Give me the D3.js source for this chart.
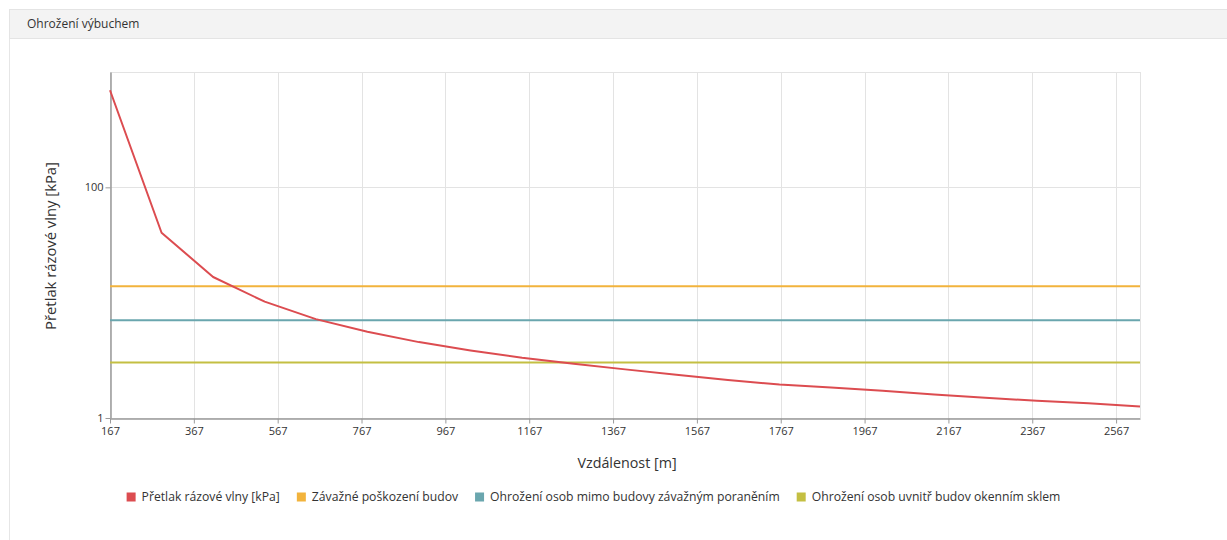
<!DOCTYPE html>
<html>
<head>
<meta charset="utf-8">
<script src="https://cdn.jsdelivr.net/npm/d3@7"></script>
<style>
  html, body { margin: 0; padding: 0; background: #fff; }
  svg { display: block; font-family: "Open Sans", "Noto Sans", sans-serif; }
</style>
</head>
<body>
<svg id="chart" width="1227" height="540"></svg>
<script>
const title = "Ohrožení výbuchem";
const xTitle = "Vzdálenost [m]";
const yTitle = "Přetlak rázové vlny [kPa]";
const distances = [167, 290, 413, 536, 658, 781, 904, 1027, 1150, 1273, 1396, 1518, 1641, 1764, 1887, 2010, 2133, 2255, 2378, 2501, 2624];
const overpressure = [695, 40.4, 16.7, 10.2, 7.2, 5.6, 4.55, 3.85, 3.33, 2.96, 2.64, 2.37, 2.14, 1.95, 1.84, 1.72, 1.60, 1.50, 1.41, 1.34, 1.26];
const thresholdNames = ["Závažné poškození budov", "Ohrožení osob mimo budovy závažným poraněním", "Ohrožení osob uvnitř budov okenním sklem"];
const thresholdValues = [13.9, 7.05, 3.03];
const seriesName = "Přetlak rázové vlny [kPa]";
const xTicks = [167, 367, 567, 767, 967, 1167, 1367, 1567, 1767, 1967, 2167, 2367, 2567];
const yTicks = [1, 100];
const yGrid = [1, 100, 1000];
const colors = ["#dc4c50", "#f2b33c", "#6aa6ae", "#c4bf42"];

const svg = d3.select("#chart");

// panel
svg.append("line").attr("x1", 9.5).attr("x2", 9.5).attr("y1", 9).attr("y2", 540).attr("stroke", "#e6e6e6");
svg.append("rect").attr("x", 9.5).attr("y", 9.5).attr("width", 1230).attr("height", 29)
  .attr("fill", "#f3f3f3").attr("stroke", "#e4e4e4");
svg.append("text").attr("x", 27).attr("y", 28).attr("font-size", 12).attr("fill", "#333").text(title);

const x = d3.scaleLinear().domain([167, 2624]).range([110, 1140]);
const y = d3.scaleLog().domain([1, 1000]).range([418, 72]);

// grid
const g = svg.append("g");
g.selectAll(".vg").data(xTicks.concat([2624])).join("line")
  .attr("x1", d => Math.round(x(d)) + 0.5).attr("x2", d => Math.round(x(d)) + 0.5)
  .attr("y1", y(1000)).attr("y2", y(1)).attr("stroke", "#e3e3e3");
g.selectAll(".hg").data(yGrid).join("line")
  .attr("x1", x(167)).attr("x2", x(2624))
  .attr("y1", d => Math.round(y(d)) + 0.5).attr("y2", d => Math.round(y(d)) + 0.5).attr("stroke", "#e3e3e3");

// axes
const xAxis = svg.append("g").attr("transform", `translate(0,${Math.round(y(1)) + 0.5})`)
  .call(d3.axisBottom(x).tickValues(xTicks).tickSize(5).tickSizeOuter(0).tickFormat(d3.format("d")));
const yAxis = svg.append("g").attr("transform", `translate(${Math.round(x(167)) + 0.5},0)`)
  .call(d3.axisLeft(y).tickValues(yTicks).tickSize(5).tickSizeOuter(0).tickFormat(d3.format("d")));
[xAxis, yAxis].forEach(a => {
  a.select(".domain").attr("stroke", "#9a9a9a").attr("stroke-width", 1.5);
  a.selectAll(".tick line").attr("stroke", "#9a9a9a");
  a.selectAll(".tick text").attr("fill", "#333").attr("font-size", 11)
    .attr("font-family", "'Open Sans', 'Noto Sans', sans-serif");
});
xAxis.selectAll(".tick text").attr("dy", "0.95em").attr("y", 6);
yAxis.selectAll(".tick text").attr("x", -7);

svg.append("text").attr("x", 627).attr("y", 468).attr("text-anchor", "middle")
  .attr("font-size", 14.3).attr("fill", "#333").text(xTitle);
svg.append("text").attr("transform", "translate(56,246) rotate(-90)").attr("text-anchor", "middle")
  .attr("font-size", 14.8).attr("fill", "#333").text(yTitle);

// thresholds
svg.selectAll(".thr").data(thresholdValues).join("line")
  .attr("x1", x(167)).attr("x2", x(2624))
  .attr("y1", d => y(d)).attr("y2", d => y(d))
  .attr("stroke", (d, i) => colors[i + 1]).attr("stroke-width", 2);

// main line
const pts = distances.map((d, i) => [d, overpressure[i]]);
svg.append("path").datum(pts)
  .attr("fill", "none").attr("stroke", colors[0]).attr("stroke-width", 2)
  .attr("stroke-linejoin", "round")
  .attr("d", d3.line().x(d => x(d[0])).y(d => y(d[1])));

// legend
const names = [seriesName].concat(thresholdNames);
const leg = svg.append("g");
let cx = 0;
names.forEach((n, i) => {
  const it = leg.append("g").attr("transform", `translate(${cx},0)`);
  it.append("rect").attr("x", 0).attr("y", -4.5).attr("width", 9).attr("height", 9).attr("fill", colors[i]);
  const t = it.append("text").attr("x", 15).attr("y", 0).attr("dy", "0.35em")
    .attr("font-size", 12.2).attr("fill", "#333").text(n);
  const w = t.node().getComputedTextLength();
  cx += 15 + w + 17;
});
const total = cx - 17;
leg.attr("transform", `translate(${593.5 - total / 2},497)`);
</script>
</body>
</html>
